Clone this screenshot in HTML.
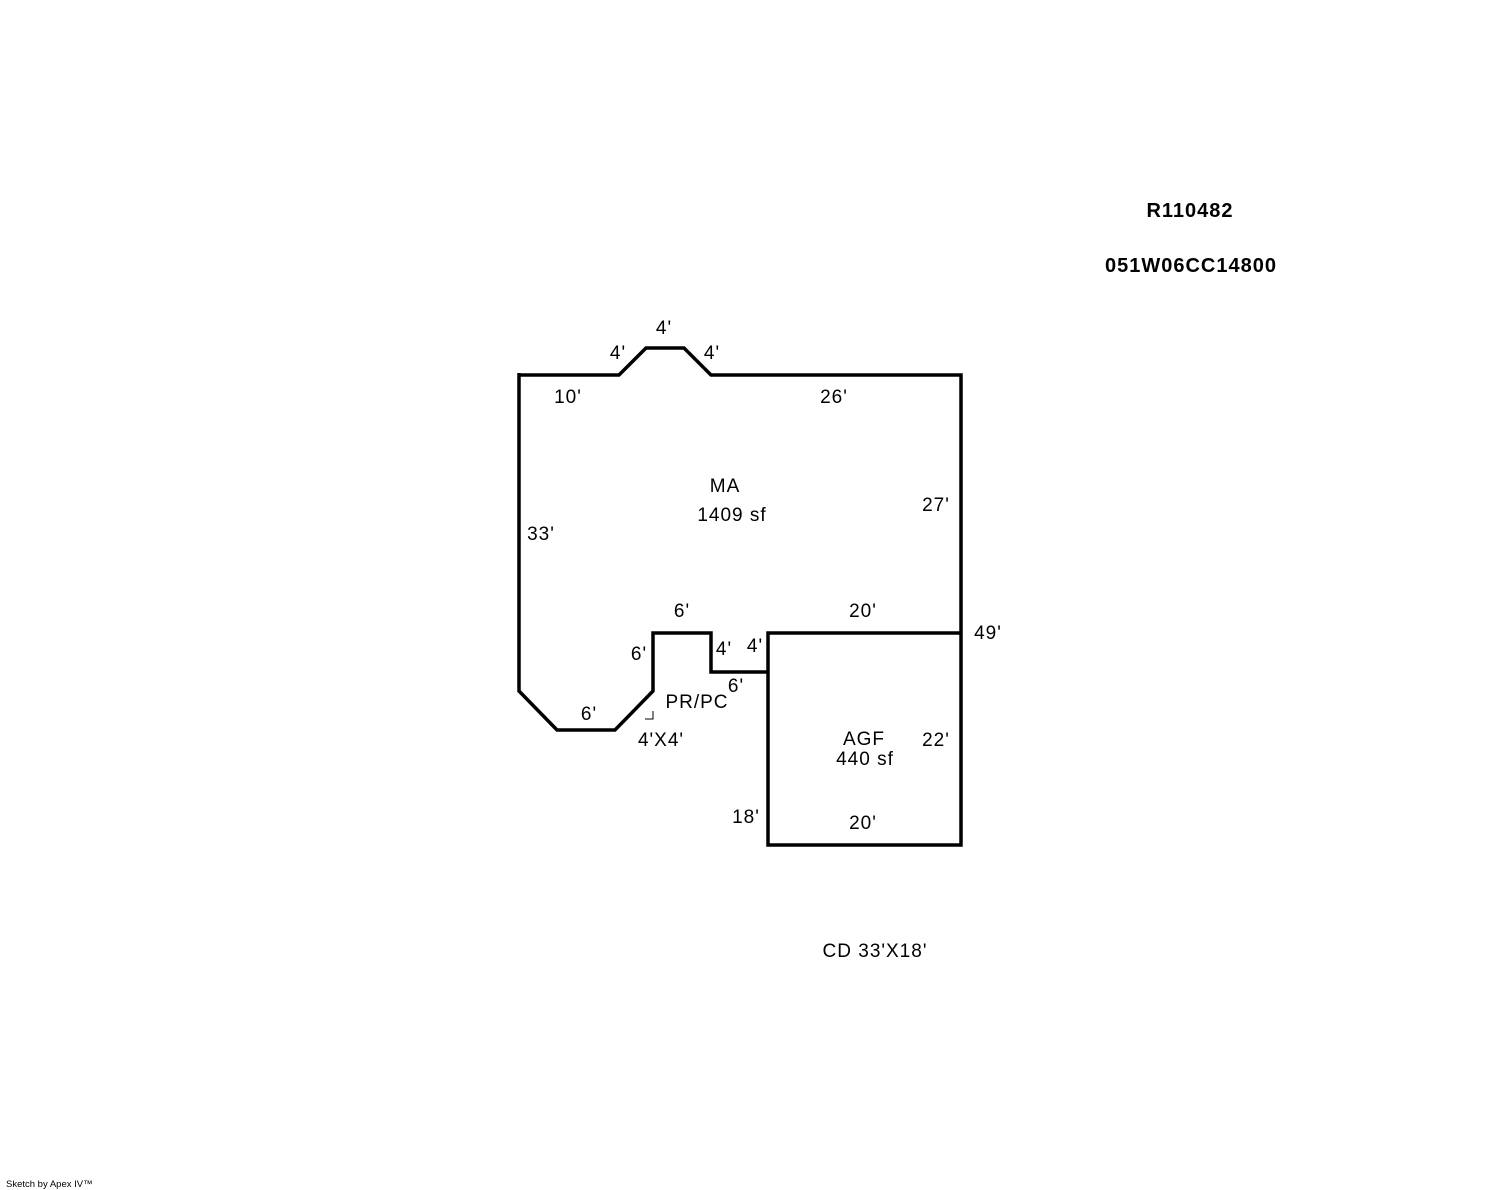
<!DOCTYPE html>
<html><head><meta charset="utf-8"><style>
html,body{margin:0;padding:0;background:#fff;}
svg{display:block;}
text{font-family:"Liberation Sans",Arial,sans-serif;font-size:19px;letter-spacing:1px;fill:#000;}
.b{font-weight:bold;font-size:20px;}
</style></head><body>
<svg width="1488" height="1190" viewBox="0 0 1488 1190" xmlns="http://www.w3.org/2000/svg">
<g fill="none" stroke="#000" stroke-width="3.5" stroke-linejoin="miter">
<polyline points="519,375 619,375 646,348 684,348 711,375 961,375 961,845 768,845 768,633 961,633"/>
<polyline points="768,672 711,672 711,633 653,633 653,691 615,730 557,730 519,691 519,373"/>
</g>
<path d="M645,719 L653,719 L653,711" fill="none" stroke="#000" stroke-width="1"/>
<text class="b" x="1190" y="217" text-anchor="middle">R110482</text>
<text class="b" x="1191" y="272" text-anchor="middle">051W06CC14800</text>
<text x="664" y="334" text-anchor="middle">4'</text>
<text x="618" y="359" text-anchor="middle">4'</text>
<text x="712" y="359" text-anchor="middle">4'</text>
<text x="568" y="403" text-anchor="middle">10'</text>
<text x="834" y="403" text-anchor="middle">26'</text>
<text x="725" y="492" text-anchor="middle">MA</text>
<text x="732" y="521" text-anchor="middle">1409 sf</text>
<text x="936" y="511" text-anchor="middle">27'</text>
<text x="541" y="540" text-anchor="middle">33'</text>
<text x="682" y="617" text-anchor="middle">6'</text>
<text x="863" y="617" text-anchor="middle">20'</text>
<text x="988" y="639" text-anchor="middle">49'</text>
<text x="639" y="660" text-anchor="middle">6'</text>
<text x="724" y="655" text-anchor="middle">4'</text>
<text x="755" y="652" text-anchor="middle">4'</text>
<text x="736" y="692" text-anchor="middle">6'</text>
<text x="697" y="708" text-anchor="middle">PR/PC</text>
<text x="589" y="720" text-anchor="middle">6'</text>
<text x="661" y="746" text-anchor="middle">4'X4'</text>
<text x="864" y="745" text-anchor="middle">AGF</text>
<text x="865" y="765" text-anchor="middle">440 sf</text>
<text x="936" y="746" text-anchor="middle">22'</text>
<text x="746" y="823" text-anchor="middle">18'</text>
<text x="863" y="829" text-anchor="middle">20'</text>
<text x="875" y="957" text-anchor="middle">CD 33'X18'</text>
<text x="6" y="1187" style="font-size:9.5px;letter-spacing:0">Sketch by Apex IV™</text>
</svg>
</body></html>
